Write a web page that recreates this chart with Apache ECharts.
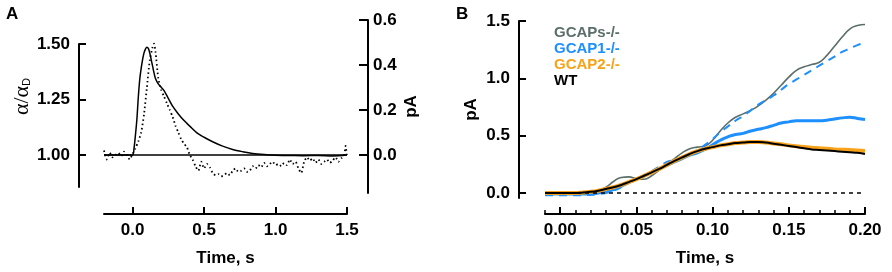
<!DOCTYPE html>
<html>
<head>
<meta charset="utf-8">
<script src="https://cdn.jsdelivr.net/npm/echarts@6/dist/echarts.min.js"></script>
<style>
html, body { margin: 0; padding: 0; background: #fff; }
#container { width: 892px; height: 272px; }
</style>
</head>
<body>
<div id="container"></div>
<script>
// panel A: alpha ratio (solid, left axis) and current (dotted, right axis)
const timeSolidA = [-0.2, -0.15, -0.1, -0.05, 0, 0.01, 0.02, 0.03, 0.04, 0.05, 0.06, 0.07, 0.08, 0.09, 0.1,
  0.11, 0.12, 0.13, 0.14, 0.15, 0.16, 0.18, 0.2, 0.22, 0.25, 0.28, 0.32, 0.36, 0.4, 0.45, 0.5, 0.56, 0.63,
  0.7, 0.77, 0.84, 0.92, 1.0, 1.1, 1.2, 1.3, 1.4, 1.5];
const alphaRatio = [1.0, 1.0, 1.0, 1.0, 1.0, 1.03, 1.09, 1.16, 1.26, 1.34, 1.39, 1.43, 1.46, 1.477, 1.485,
  1.48, 1.46, 1.43, 1.40, 1.37, 1.345, 1.32, 1.305, 1.29, 1.255, 1.22, 1.185, 1.155, 1.13, 1.10, 1.08, 1.06, 1.04,
  1.025, 1.015, 1.007, 1.002, 0.999, 0.998, 0.997, 0.998, 0.996, 1.0];

const timeDottedA = [-0.2, -0.18, -0.16, -0.14, -0.12, -0.1, -0.08, -0.06, -0.04, -0.02, 0, 0.02, 0.04, 0.06,
  0.08, 0.1, 0.12, 0.14, 0.15, 0.16, 0.18, 0.2, 0.22, 0.24, 0.26, 0.28, 0.3, 0.32, 0.34, 0.36, 0.38, 0.4, 0.42,
  0.44, 0.46, 0.48, 0.5, 0.52, 0.54, 0.56, 0.58, 0.6, 0.62, 0.64, 0.66, 0.68, 0.7, 0.72, 0.74, 0.76, 0.78, 0.8,
  0.82, 0.84, 0.86, 0.88, 0.9, 0.92, 0.94, 0.96, 0.98, 1.0, 1.02, 1.04, 1.06, 1.08, 1.1, 1.12, 1.14, 1.16, 1.18,
  1.2, 1.22, 1.24, 1.26, 1.28, 1.3, 1.32, 1.34, 1.36, 1.38, 1.4, 1.42, 1.44, 1.46, 1.48, 1.49, 1.5];
const currentA = [0.02, -0.02, 0.01, -0.01, 0.0, 0.01, -0.005, 0.015, 0.0, -0.02, 0.005, 0.03, 0.06, 0.10,
  0.18, 0.30, 0.42, 0.48, 0.495, 0.46, 0.34, 0.29, 0.26, 0.23, 0.20, 0.17, 0.13, 0.10, 0.07, 0.05, 0.035, 0.0, -0.02,
  -0.05, -0.07, -0.03, -0.06, -0.04, -0.055, -0.08, -0.09, -0.085, -0.095, -0.09, -0.08, -0.09, -0.07, -0.06, -0.075, -0.07, -0.06, -0.075,
  -0.07, -0.05, -0.06, -0.045, -0.055, -0.035, -0.05, -0.04, -0.03, -0.045, -0.04, -0.05, -0.035, -0.045, -0.02, -0.04, -0.03, -0.06, -0.08,
  -0.03, -0.01, -0.025, -0.015, -0.035, -0.02, -0.04, -0.03, -0.02, -0.035, -0.025, -0.01, -0.03, -0.015, 0.0, 0.04, -0.01];

const xTicksA = [0, 0.5, 1.0, 1.5];
const yTicksLeftA = [1.0, 1.25, 1.5];
const yTicksRightA = [0, 0.2, 0.4, 0.6];

// panel B: currents
const timeB = [-0.01, -0.005, 0, 0.005, 0.01, 0.015, 0.02, 0.025, 0.03, 0.035, 0.04, 0.045, 0.05, 0.055, 0.06,
  0.065, 0.07, 0.075, 0.08, 0.085, 0.09, 0.095, 0.1, 0.105, 0.11, 0.115, 0.12, 0.125, 0.13, 0.135, 0.14, 0.145,
  0.15, 0.155, 0.16, 0.165, 0.17, 0.175, 0.18, 0.185, 0.19, 0.195, 0.2];
const gcapsKO = [0, 0, 0, 0, 0, 0.005, 0.01, 0.02, 0.05, 0.10, 0.135, 0.14, 0.125, 0.12, 0.15,
  0.20, 0.25, 0.30, 0.35, 0.385, 0.40, 0.41, 0.46, 0.54, 0.61, 0.66, 0.69, 0.72, 0.76, 0.81, 0.87, 0.94,
  1.01, 1.07, 1.10, 1.12, 1.14, 1.20, 1.28, 1.36, 1.43, 1.46, 1.47];
const gcap1Dashed = [-0.02, -0.02, -0.02, -0.02, -0.02, -0.02, -0.015, -0.01, 0.0, 0.02, 0.05, 0.09, 0.12, 0.15, 0.19,
  0.23, 0.27, 0.29, 0.31, 0.33, 0.37, 0.42, 0.47, 0.53, 0.58, 0.63, 0.67, 0.72, 0.77, 0.81, 0.85, 0.90,
  0.95, 0.99, 1.03, 1.07, 1.11, 1.15, 1.19, 1.23, 1.26, 1.29, 1.31];
const gcap1KO = [-0.01, -0.01, -0.01, -0.01, -0.01, -0.01, -0.01, 0.0, 0.01, 0.03, 0.06, 0.09, 0.12, 0.15, 0.18,
  0.21, 0.24, 0.27, 0.30, 0.33, 0.35, 0.38, 0.42, 0.46, 0.49, 0.51, 0.52, 0.54, 0.555, 0.57, 0.59, 0.61,
  0.62, 0.63, 0.63, 0.63, 0.63, 0.635, 0.645, 0.655, 0.66, 0.65, 0.64];
const gcap2KO = [0, 0, 0, 0, 0, 0.005, 0.01, 0.02, 0.035, 0.05, 0.07, 0.095, 0.12, 0.15, 0.18,
  0.21, 0.245, 0.28, 0.31, 0.34, 0.365, 0.385, 0.40, 0.415, 0.425, 0.435, 0.44, 0.445, 0.445, 0.44, 0.432, 0.424,
  0.415, 0.407, 0.40, 0.394, 0.39, 0.385, 0.38, 0.377, 0.375, 0.37, 0.365];
const wt = [0, 0, 0, 0, 0, 0.005, 0.01, 0.02, 0.035, 0.05, 0.07, 0.095, 0.12, 0.15, 0.18,
  0.21, 0.245, 0.28, 0.31, 0.34, 0.365, 0.385, 0.40, 0.415, 0.425, 0.435, 0.44, 0.445, 0.445, 0.44, 0.43, 0.42,
  0.41, 0.40, 0.39, 0.38, 0.375, 0.37, 0.365, 0.36, 0.355, 0.35, 0.34];

const xTicksB = [0, 0.05, 0.1, 0.15, 0.2];
const yTicksB = [0, 0.5, 1.0, 1.5];

const FONT = 'Liberation Sans, Arial, sans-serif';
const zip = (xs, ys) => xs.map((x, i) => [x, ys[i]]);

const lineAxis = { show: true, onZero: false, lineStyle: { color: '#000', width: 2 } };
const labelStyle = { color: '#000', fontFamily: FONT, fontSize: 17, fontWeight: 'bold' };
const nameStyle = { color: '#000', fontFamily: FONT, fontSize: 17, fontWeight: 'bold' };

let mychart = echarts.init(document.getElementById('container'));

let options = {
  animation: false,
  title: [
    { text: 'A', left: 6, top: 6, padding: 0, textStyle: { fontFamily: FONT, fontSize: 17, fontWeight: 'bold', color: '#000' } },
    { text: 'B', left: 456, top: 6, padding: 0, textStyle: { fontFamily: FONT, fontSize: 17, fontWeight: 'bold', color: '#000' } }
  ],
  legend: {
    orient: 'vertical',
    left: 544,
    top: 20,
    icon: 'rect',
    itemWidth: 0,
    itemHeight: 0,
    itemGap: 1,
    selectedMode: false,
    textStyle: { fontFamily: FONT, fontSize: 15, fontWeight: 'bold', lineHeight: 15 },
    data: [
      { name: 'GCAPs-/-', textStyle: { color: '#5b6e6a' } },
      { name: 'GCAP1-/-', textStyle: { color: '#1e8fff' } },
      { name: 'GCAP2-/-', textStyle: { color: '#f7a21a' } },
      { name: 'WT', textStyle: { color: '#000' } }
    ]
  },
  grid: [
    { left: 104, width: 243, top: 44, height: 143 },
    { left: 104, width: 243, top: 20, height: 173 },
    { left: 545, width: 320, top: 21, height: 177 }
  ],
  xAxis: [
    { gridIndex: 0, type: 'value', min: -0.2, max: 1.5, show: false },
    {
      gridIndex: 1, type: 'value', min: -0.2, max: 1.5, position: 'bottom', offset: 21,
      axisLine: lineAxis,
      axisTick: { show: true, inside: true, length: 7, lineStyle: { width: 2, color: '#000' }, customValues: xTicksA },
      axisLabel: Object.assign({ customValues: xTicksA, formatter: v => v.toFixed(1), margin: 8 }, labelStyle),
      splitLine: { show: false },
      name: 'Time, s', nameLocation: 'middle', nameGap: 36, nameTextStyle: nameStyle
    },
    {
      gridIndex: 2, type: 'value', min: -0.01, max: 0.2, position: 'bottom', offset: 16,
      axisLine: lineAxis,
      axisTick: { show: true, inside: true, length: 7, lineStyle: { width: 2, color: '#000' }, customValues: xTicksB },
      axisLabel: Object.assign({ customValues: xTicksB, formatter: v => v.toFixed(2), margin: 8 }, labelStyle),
      splitLine: { show: false },
      name: 'Time, s', nameLocation: 'middle', nameGap: 36, nameTextStyle: nameStyle
    },
    {
      gridIndex: 2, type: 'value', min: -0.01, max: 0.2, interval: 0.01, position: 'bottom', offset: 16,
      axisLine: { show: false, onZero: false },
      axisTick: { show: true, inside: true, length: 4, lineStyle: { width: 1.5, color: '#000' } },
      axisLabel: { show: false },
      splitLine: { show: false }
    }
  ],
  yAxis: [
    {
      gridIndex: 0, type: 'value', min: 0.856, max: 1.5, position: 'left', offset: 25,
      axisLine: lineAxis,
      axisTick: { show: true, inside: true, length: 7, lineStyle: { width: 2, color: '#000' }, customValues: yTicksLeftA },
      axisLabel: Object.assign({ customValues: yTicksLeftA, formatter: v => v.toFixed(2), margin: 9 }, labelStyle),
      splitLine: { show: false },
      name: '{a|α/α}{s|D}', nameLocation: 'middle', nameRotate: 90, nameGap: 46,
      nameTextStyle: {
        color: '#000',
        padding: [0, 0, 0, 38],
        rich: {
          a: { fontFamily: 'Liberation Serif, serif', fontSize: 22, color: '#000' },
          s: { fontFamily: FONT, fontSize: 11, color: '#000', padding: [10, 0, 0, 0] }
        }
      }
    },
    {
      gridIndex: 1, type: 'value', min: -0.169, max: 0.6, position: 'right', offset: 21,
      axisLine: lineAxis,
      axisTick: { show: true, inside: true, length: 9, lineStyle: { width: 2, color: '#000' }, customValues: yTicksRightA },
      axisLabel: Object.assign({ customValues: yTicksRightA, formatter: v => v.toFixed(1), margin: 5 }, labelStyle),
      splitLine: { show: false },
      name: 'pA', nameLocation: 'middle', nameRotate: 90, nameGap: 35, nameTextStyle: nameStyle
    },
    {
      gridIndex: 2, type: 'value', min: -0.044, max: 1.5, position: 'left', offset: 26,
      axisLine: lineAxis,
      axisTick: { show: true, inside: true, length: 7, lineStyle: { width: 2, color: '#000' }, customValues: yTicksB },
      axisLabel: Object.assign({ customValues: yTicksB, formatter: v => v.toFixed(1), margin: 9 }, labelStyle),
      splitLine: { show: false },
      name: 'pA', nameLocation: 'middle', nameRotate: 90, nameGap: 39, nameTextStyle: nameStyle
    }
  ],
  series: [
    {
      name: 'alpha', type: 'line', xAxisIndex: 0, yAxisIndex: 0, data: zip(timeSolidA, alphaRatio),
      showSymbol: false, smooth: 0.3, lineStyle: { color: '#000', width: 1.5 },
      markLine: {
        silent: true, symbol: 'none', label: { show: false },
        lineStyle: { color: '#000', width: 1.5, type: 'solid' },
        data: [{ yAxis: 1.0 }]
      }
    },
    {
      name: 'current', type: 'line', xAxisIndex: 1, yAxisIndex: 1, data: zip(timeDottedA, currentA),
      showSymbol: false, smooth: 0.2, lineStyle: { color: '#000', width: 1.8, type: [1.5, 2.8] }
    },
    {
      name: 'GCAPs-/-', type: 'line', xAxisIndex: 2, yAxisIndex: 2, data: zip(timeB, gcapsKO),
      showSymbol: false, smooth: true, color: '#5b6e6a', lineStyle: { color: '#5b6e6a', width: 1.6 },
      markLine: {
        silent: true, symbol: 'none', label: { show: false },
        lineStyle: { color: '#000', width: 1.5, type: [4, 4] },
        data: [{ yAxis: 0 }]
      }
    },
    {
      name: 'GCAP1-/- model', type: 'line', xAxisIndex: 2, yAxisIndex: 2, data: zip(timeB, gcap1Dashed),
      showSymbol: false, smooth: true, lineStyle: { color: '#1e8fff', width: 2, type: [8, 6] }
    },
    {
      name: 'GCAP1-/-', type: 'line', xAxisIndex: 2, yAxisIndex: 2, data: zip(timeB, gcap1KO),
      showSymbol: false, smooth: true, color: '#1e8fff', lineStyle: { color: '#1e8fff', width: 3 }
    },
    {
      name: 'GCAP2-/-', type: 'line', xAxisIndex: 2, yAxisIndex: 2, data: zip(timeB, gcap2KO),
      showSymbol: false, smooth: true, color: '#f7a21a', lineStyle: { color: '#f7a21a', width: 4 }
    },
    {
      name: 'WT', type: 'line', xAxisIndex: 2, yAxisIndex: 2, data: zip(timeB, wt),
      showSymbol: false, smooth: true, color: '#000', lineStyle: { color: '#000', width: 2 }
    }
  ]
};

mychart.setOption(options);
window.addEventListener('resize', () => { mychart.resize() });
</script>
</body>
</html>
